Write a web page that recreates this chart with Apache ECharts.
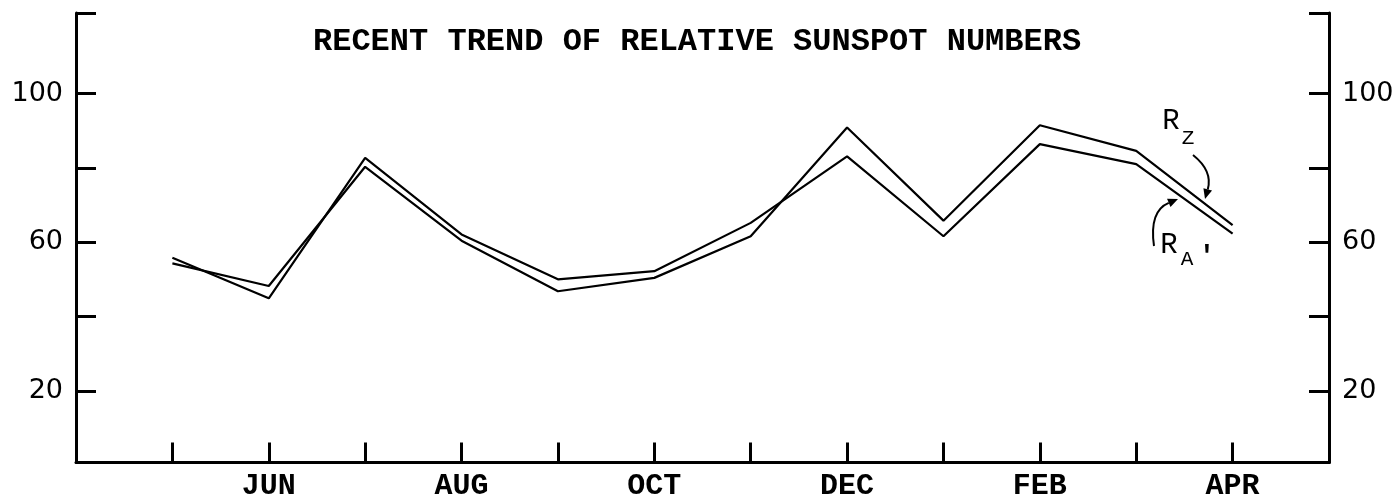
<!DOCTYPE html>
<html>
<head>
<meta charset="utf-8">
<script src="https://cdn.jsdelivr.net/npm/echarts@6/dist/echarts.min.js"></script>
<style>
html,body{margin:0;padding:0;background:#fff;}
#chart{width:1400px;height:497px;}
</style>
</head>
<body>
<div id="chart"></div>
<script>
// ---- data ----
var months = ['MAY','JUN','JUL','AUG','SEP','OCT','NOV','DEC','JAN','FEB','MAR','APR'];
var labeledMonths = [2,4,6,8,10,12];          // positions carrying month labels
var rZ      = [54.3, 48.2, 80.3, 60.4, 46.8, 50.4, 61.6, 90.9, 65.8, 91.5, 84.6, 64.6];
var rA      = [55.8, 44.9, 82.7, 62.1, 50.0, 52.2, 65.2, 83.1, 61.6, 86.4, 81.0, 62.3];
var yTicks  = [20, 40, 60, 80, 100];
var yLabels = [20, 60, 100];
var titleText = 'RECENT TREND OF RELATIVE SUNSPOT NUMBERS';

var Y_MIN = 0.7, Y_MAX = 121.7;
var mono = '"Courier New", "Liberation Mono", monospace';
var sans = '"DejaVu Sans", sans-serif';

function pairs(arr){ return arr.map(function(v,i){ return [i+1, v]; }); }
function xTickVals(){ return months.map(function(m,i){ return i+1; }); }

function arrowHead(tip, dir, len, half){
  var n = Math.sqrt(dir[0]*dir[0]+dir[1]*dir[1]);
  var d = [dir[0]/n, dir[1]/n], p = [-d[1], d[0]];
  var bx = tip[0]-d[0]*len, by = tip[1]-d[1]*len;
  return [[tip[0],tip[1]],[bx+p[0]*half,by+p[1]*half],[bx-p[0]*half,by-p[1]*half]];
}

var chart = echarts.init(document.getElementById('chart'), null, {renderer:'canvas'});

var yAxisBase = function(pos){
  return {
    type:'value', position:pos, min:Y_MIN, max:Y_MAX,
    splitLine:{show:false},
    axisLine:{show:true, onZero:false, lineStyle:{color:'#000', width:3}},
    axisTick:{show:true, inside:true, length:20, lineStyle:{color:'#000', width:3},
              customValues: yTicks.concat([Y_MAX])},
    axisLabel:{show:true, customValues:yLabels, margin:13, color:'#000',
               fontFamily:sans, fontSize:27, padding:[0,0,5,0]}
  };
};

// arrow geometry for annotations
var zStart=[1193,155], zCp=[1213,171], zTip=[1205,199];
var zHead = arrowHead(zTip, [zTip[0]-zCp[0], zTip[1]-zCp[1]], 10, 4.5);
var aStart=[1154,246], aCp=[1149,211], aTip=[1178,199];
var aHead = arrowHead(aTip, [aTip[0]-aCp[0], aTip[1]-aCp[1]], 10, 4.5);
function mid(h){ return [(h[1][0]+h[2][0])/2,(h[1][1]+h[2][1])/2]; }

var option = {
  backgroundColor:'#fff',
  animation:false,
  title:{
    text:titleText, left:308, top:21,
    textStyle:{fontFamily:mono, fontSize:32, fontWeight:'bold', color:'#000'}
  },
  grid:{left:76, right:71, top:13, bottom:34.5, containLabel:false, outerBoundsMode:'none'},
  xAxis:{
    type:'value', min:0, max:months.length+1,
    splitLine:{show:false},
    axisLine:{show:true, onZero:false, lineStyle:{color:'#000', width:3}},
    axisTick:{show:true, inside:true, length:20, lineStyle:{color:'#000', width:3},
              customValues:xTickVals()},
    axisLabel:{show:true, customValues:labeledMonths, margin:9, color:'#000',
               fontFamily:mono, fontSize:30, fontWeight:'bold',
               formatter:function(v){ return months[Math.round(v)-1] || ''; }}
  },
  yAxis:[yAxisBase('left'), yAxisBase('right')],
  series:[
    {name:'RZ', type:'line', data:pairs(rZ), symbol:'none',
     lineStyle:{color:'#000', width:2.2}},
    {name:"RA'", type:'line', data:pairs(rA), symbol:'none',
     lineStyle:{color:'#000', width:2.2}}
  ],
  graphic:[
    {type:'text', x:1171, y:121, style:{text:'R', fontFamily:mono, fontSize:29, fill:'#000', align:'center', verticalAlign:'middle'}},
    {type:'text', x:1188, y:138, style:{text:'Z', fontFamily:mono, fontSize:21, fill:'#000', align:'center', verticalAlign:'middle'}},
    {type:'text', x:1169, y:245, style:{text:'R', fontFamily:mono, fontSize:29, fill:'#000', align:'center', verticalAlign:'middle'}},
    {type:'text', x:1187, y:259, style:{text:'A', fontFamily:mono, fontSize:21, fill:'#000', align:'center', verticalAlign:'middle'}},
    {type:'text', x:1207, y:257, style:{text:"'", fontFamily:mono, fontSize:28, fontWeight:'bold', fill:'#000', align:'center', verticalAlign:'middle'}},
    {type:'bezierCurve', shape:{x1:zStart[0], y1:zStart[1], cpx1:zCp[0], cpy1:zCp[1], x2:mid(zHead)[0], y2:mid(zHead)[1]},
     style:{stroke:'#000', lineWidth:2, fill:null}},
    {type:'polygon', shape:{points:zHead}, style:{fill:'#000'}},
    {type:'bezierCurve', shape:{x1:aStart[0], y1:aStart[1], cpx1:aCp[0], cpy1:aCp[1], x2:mid(aHead)[0], y2:mid(aHead)[1]},
     style:{stroke:'#000', lineWidth:2, fill:null}},
    {type:'polygon', shape:{points:aHead}, style:{fill:'#000'}}
  ]
};
chart.setOption(option);
</script>
</body>
</html>
